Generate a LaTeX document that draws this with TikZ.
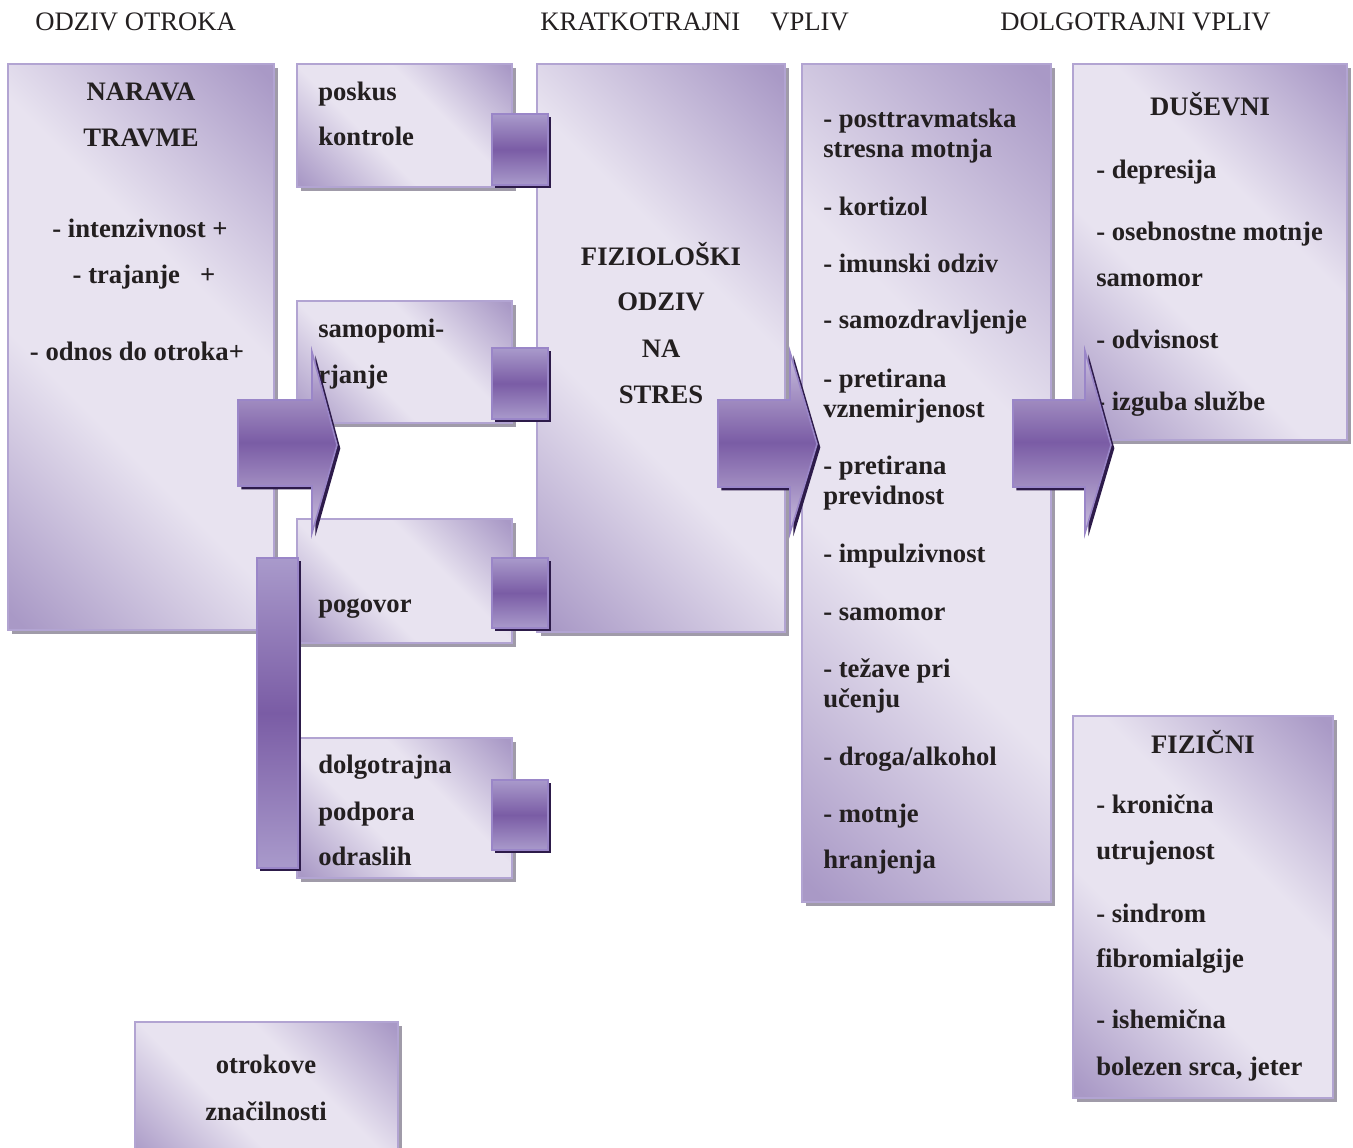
\documentclass[tikz,border=0pt]{standalone}
\usepackage{fontspec}
\setmainfont{Liberation Serif}
\usetikzlibrary{shadows}
\definecolor{boxlight}{HTML}{E8E3F0}
\definecolor{boxdark}{HTML}{A999C6}
\definecolor{boxborder}{HTML}{B2A4D2}
\definecolor{boxshadow}{HTML}{A09BA9}
\definecolor{purpdark}{HTML}{7A5CA5}
\definecolor{purplight}{HTML}{A99ACB}
\definecolor{arrlight}{HTML}{CBC1DF}
\definecolor{purpborder}{HTML}{9A86C8}
\definecolor{purpshadow}{HTML}{2D1B4A}
\definecolor{txtcol}{HTML}{231F20}
\pgfdeclarehorizontalshading{boxsh}{100bp}{color(0bp)=(boxdark); color(16bp)=(boxdark); color(40bp)=(boxlight); color(60bp)=(boxlight); color(84bp)=(boxdark); color(100bp)=(boxdark)}
\newcommand\boxnode[5]{\node[box, minimum width={(#4-#2)*0.75pt}, minimum height={(#5-#3)*0.75pt}] (#1) at ({(#2+#4)/2},{(#3+#5)/2}) {};}
\newcommand\purpnode[5]{\node[purp, minimum width={(#4-#2)*0.75pt}, minimum height={(#5-#3)*0.75pt}] (#1) at ({(#2+#4)/2},{(#3+#5)/2}) {};}
\newcommand\tl[4]{\node[txt, anchor=base west] (#1) at (#2,#3) {#4};}
\newcommand\tc[4]{\node[txt, anchor=base] (#1) at (#2,#3) {#4};}
\begin{document}
\begin{tikzpicture}[x=0.75pt,y=-0.75pt,
  box/.style={rectangle, draw=boxborder, line width=1.2pt, shading=boxsh, shading angle=45, inner sep=0pt,
    drop shadow={shadow xshift=3pt, shadow yshift=-3pt, fill=boxshadow, opacity=1}},
  purp/.style={rectangle, draw=purpborder, line width=1.2pt, top color=purplight, bottom color=purplight, middle color=purpdark, inner sep=0pt,
    drop shadow={shadow xshift=2.5pt, shadow yshift=-2.5pt, fill=purpshadow, opacity=1}},
  blockarrow/.style={draw=purpborder, line width=1.2pt, top color=arrlight, bottom color=arrlight, middle color=purpdark,
    drop shadow={shadow xshift=2.5pt, shadow yshift=-2.5pt, fill=purpshadow, opacity=1}},
  txt/.style={font=\fontsize{20}{24}\selectfont\bfseries, text=txtcol, inner sep=0pt},
  hdr/.style={font=\fontsize{20}{24}\selectfont, text=txtcol, inner sep=0pt, anchor=base west}]
\useasboundingbox (0,0) rectangle (1353,1147);
% headers
\node[hdr] (h1) at (35,30) {ODZIV OTROKA};
\node[hdr] (h2) at (540,30) {KRATKOTRAJNI};
\node[hdr] (h3) at (770,30) {VPLIV};
\node[hdr] (h4) at (1000,30) {DOLGOTRAJNI VPLIV};
% boxes
\boxnode{narava}{8}{64}{274}{630}
\boxnode{poskus}{297}{64}{512}{187}
\boxnode{samo}{297}{301}{512}{423}
\boxnode{pogovor}{297}{519}{512}{643}
\boxnode{dolgo}{297}{738}{512}{878}
\boxnode{fizio}{537}{64}{785}{632}
\boxnode{effects}{802}{64}{1051}{902}
\boxnode{dusevni}{1073}{64}{1347}{440}
\boxnode{fizicni}{1073}{716}{1333}{1098}
\boxnode{otrok}{135}{1022}{398}{1165}
% texts: narava
\tc{n1}{141}{100}{NARAVA}
\tc{n2}{141}{146}{TRAVME}
\tc{n3}{140}{237}{- intenzivnost +}
\tc{n4}{144}{283}{- trajanje\ \ \ +}
\tc{n5}{137}{360}{- odnos do otroka+}
% small boxes
\tl{p1}{318}{100}{poskus}
\tl{p2}{318}{145}{kontrole}
\tl{s1}{318}{337}{samopomi-}
\tl{s2}{318}{383}{rjanje}
\tl{g1}{318}{612}{pogovor}
\tl{d1}{318}{773}{dolgotrajna}
\tl{d2}{318}{820}{podpora}
\tl{d3}{318}{865}{odraslih}
% fizio
\tc{f1}{661}{265}{FIZIOLOŠKI}
\tc{f2}{661}{310}{ODZIV}
\tc{f3}{661}{357}{NA}
\tc{f4}{661}{403}{STRES}
% effects
\tl{e1}{823}{127}{- posttravmatska}
\tl{e2}{823}{157}{stresna motnja}
\tl{e3}{823}{215}{- kortizol}
\tl{e4}{823}{272}{- imunski odziv}
\tl{e5}{823}{328}{- samozdravljenje}
\tl{e6}{823}{387}{- pretirana}
\tl{e7}{823}{417}{vznemirjenost}
\tl{e8}{823}{474}{- pretirana}
\tl{e9}{823}{504}{previdnost}
\tl{e10}{823}{562}{- impulzivnost}
\tl{e11}{823}{620}{- samomor}
\tl{e12}{823}{677}{- težave pri}
\tl{e13}{823}{707}{učenju}
\tl{e14}{823}{765}{- droga/alkohol}
\tl{e15}{823}{822}{- motnje}
\tl{e16}{823}{868}{hranjenja}
% dusevni
\tc{u0}{1210}{115}{DUŠEVNI}
\tl{u1}{1096}{178}{- depresija}
\tl{u2}{1096}{240}{- osebnostne motnje}
\tl{u3}{1096}{286}{samomor}
\tl{u4}{1096}{348}{- odvisnost}
\tl{u5}{1096}{410}{- izguba službe}
% fizicni
\tc{z0}{1203}{753}{FIZIČNI}
\tl{z1}{1096}{813}{- kronična}
\tl{z2}{1096}{859}{utrujenost}
\tl{z3}{1096}{922}{- sindrom}
\tl{z4}{1096}{967}{fibromialgije}
\tl{z5}{1096}{1028}{- ishemična}
\tl{z6}{1096}{1075}{bolezen srca, jeter}
% otrokove
\tc{o1}{266}{1073}{otrokove}
\tc{o2}{266}{1120}{značilnosti}
% purple squares and bar
\purpnode{sq1}{492}{114}{548}{185}
\purpnode{sq2}{492}{348}{548}{419}
\purpnode{sq3}{492}{558}{548}{628}
\purpnode{sq4}{492}{780}{548}{850}
\purpnode{bar}{257}{558}{298}{868}
% block arrows
\path[blockarrow] (238,400) -- (312,400) -- (312,352) -- (337,445) -- (312,533) -- (312,486) -- (238,486) -- cycle;
\path[blockarrow] (718,400) -- (790,400) -- (790,352) -- (817,444) -- (790,533) -- (790,487) -- (718,487) -- cycle;
\path[blockarrow] (1013,400) -- (1085,400) -- (1085,351) -- (1111,445) -- (1085,533) -- (1085,487) -- (1013,487) -- cycle;
\end{tikzpicture}
\end{document}
